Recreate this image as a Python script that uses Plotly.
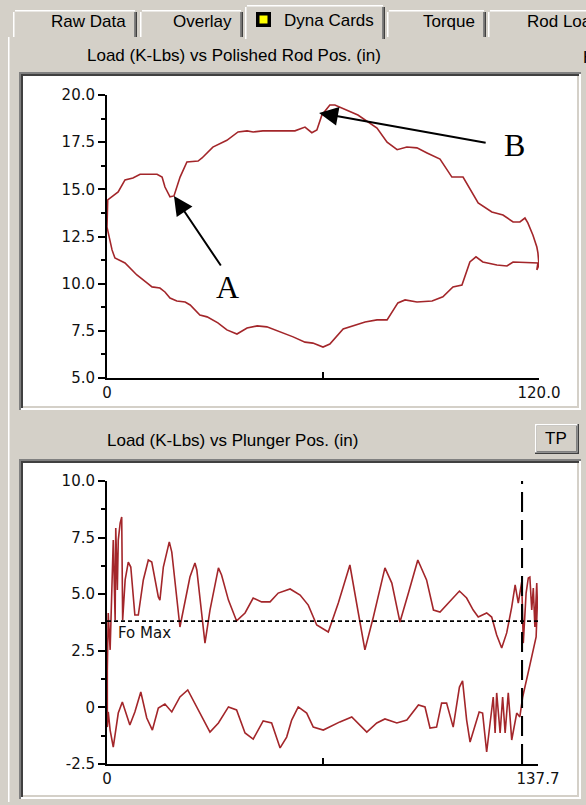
import plotly.graph_objects as go

W, H = 586, 805
BG = "#d4d0c8"
CARD_RED = "#a3262a"

# ---- Surface card: load (K-Lbs) vs polished rod position (in) ----
POLISHED_POS = [0.0, 0.2, 3.1, 5.0, 7.2, 9.2, 13.9, 15.3, 16.1, 17.5, 18.6, 20.3, 22.2, 25.3, 26.4,
                29.4, 33.3, 36.4, 38.9, 40.6, 43.3, 48.1, 52.2, 55.0, 56.9, 58.3, 59.7, 61.9, 63.3,
                69.7, 75.0, 77.8, 80.6, 83.3, 86.1, 88.9, 92.5, 95.8, 98.9, 103.1, 106.9, 110.0,
                112.8, 114.7, 116.1, 116.9, 118.3, 119.4, 119.7, 120.0, 119.4, 119.7, 112.8, 111.1,
                108.3, 104.4, 102.5, 100.8, 98.6, 96.1, 93.3, 90.3, 86.1, 82.8, 80.8, 77.8, 75.0,
                71.7, 65.6, 61.9, 60.0, 57.2, 55.0, 51.7, 48.1, 44.4, 41.7, 38.9, 36.1, 33.3, 30.8,
                27.8, 25.8, 23.1, 21.7, 19.4, 17.5, 16.1, 14.7, 12.5, 11.1, 8.3, 5.0, 2.2, 1.4, 0.3, 0.0]
POLISHED_LOAD = [13.0, 14.44, 14.86, 15.5, 15.6, 15.8, 15.8, 15.65, 15.12, 14.6, 14.65, 15.65, 16.45,
                 16.5, 16.66, 17.24, 17.6, 18.04, 18.1, 18.04, 18.1, 18.1, 18.1, 18.3, 18.0, 18.15,
                 18.94, 19.47, 19.47, 18.94, 18.25, 17.5, 17.1, 17.24, 17.2, 16.93, 16.6, 15.65, 15.65,
                 14.28, 13.8, 13.64, 13.27, 13.27, 13.48, 13.22, 12.58, 11.94, 11.63, 10.99, 10.73,
                 11.1, 11.15, 10.94, 10.99, 11.15, 11.42, 11.15, 9.93, 9.83, 9.3, 9.08, 9.03, 9.14,
                 8.98, 8.08, 8.08, 7.97, 7.6, 6.8, 6.64, 6.85, 6.9, 7.18, 7.44, 7.71, 7.76, 7.65, 7.33,
                 7.55, 7.92, 8.24, 8.34, 8.87, 9.03, 9.08, 9.24, 9.56, 9.77, 9.83, 10.04, 10.46, 11.1,
                 11.36, 11.79, 12.85, 13.0]

# ---- Downhole card: load (K-Lbs) vs plunger position (in) ----
PLUNGER_POS_UP = [0.1, 0.4, 1.0, 1.5, 2.0, 2.6, 2.8, 3.3, 3.6, 4.2, 4.7, 5.0, 5.8, 6.8, 7.6, 8.9, 10.0,
                  11.6, 13.2, 14.3, 16.4, 16.9, 18.0, 19.9, 20.7, 23.3, 24.9, 26.5, 28.1, 28.7, 31.3,
                  32.9, 35.6, 36.6, 38.8, 41.4, 44.1, 46.7, 49.4, 52.1, 54.7, 58.5, 61.7, 64.3, 67.0,
                  70.7, 73.9, 77.6, 80.3, 82.4, 85.1, 88.8, 91.0, 93.6, 96.3, 99.3, 102.1, 104.3, 106.4,
                  109.0, 112.6, 114.9, 117.0, 118.6, 121.3, 122.9, 124.5, 126.1, 127.7, 129.3, 130.4,
                  131.4, 132.5, 133.0, 133.9, 134.6, 135.1, 135.7, 136.2, 136.7, 137.3, 137.5, 137.1,
                  135.1, 132.8]
PLUNGER_LOAD_UP = [1.65, 4.17, 2.54, 5.63, 7.39, 3.86, 7.92, 5.19, 7.39, 8.14, 8.41, 3.86, 5.63, 6.42,
                   6.2, 4.08, 4.08, 5.63, 6.51, 6.42, 4.88, 4.74, 6.2, 7.31, 6.86, 3.55, 4.74, 5.76, 6.38,
                   6.07, 2.84, 4.3, 6.16, 5.85, 4.74, 3.82, 4.17, 4.83, 4.66, 4.66, 5.05, 5.23, 4.96,
                   4.52, 3.64, 3.33, 4.61, 6.29, 4.17, 2.54, 3.99, 6.16, 5.49, 3.77, 5.05, 6.51, 5.63,
                   4.3, 4.21, 4.61, 5.14, 4.83, 4.3, 3.99, 4.17, 3.99, 3.2, 2.62, 3.29, 4.43, 5.41, 4.61,
                   5.54, 2.84, 5.05, 5.72, 5.76, 4.3, 5.27, 3.55, 5.49, 4.61, 3.11, 1.87, 0.46]
PLUNGER_POS_DOWN = [131.9, 130.9, 129.3, 128.2, 127.2, 126.4, 125.6, 124.5, 124.0, 123.4, 122.4, 121.3,
                    120.0, 118.9, 116.0, 114.9, 113.6, 112.6, 110.6, 108.5, 106.9, 105.3, 103.2, 101.6,
                    99.5, 95.8, 92.6, 88.8, 86.2, 83.0, 78.2, 74.4, 69.1, 65.9, 63.8, 61.1, 59.0, 57.4,
                    55.3, 52.6, 49.9, 46.7, 44.1, 41.4, 38.8, 35.6, 32.9, 29.7, 25.8, 23.3, 20.7, 18.5,
                    16.4, 14.5, 12.7, 10.8, 8.9, 7.3, 4.9, 3.6, 2.0, 1.0, 0.4, 0.1, 0.0, 0.1]
PLUNGER_LOAD_DOWN = [-0.42, -0.25, -1.44, 0.64, -1.13, 0.46, -1.13, 0.64, -1.13, 0.46, -0.69, -1.97,
                     -0.25, -0.2, -1.53, -0.56, 1.17, 0.9, -0.87, 0.19, 0.19, -0.87, -0.91, 0.02, 0.11,
                     -0.56, -0.69, -0.51, -0.69, -1.09, -0.42, -0.64, -1.0, -0.87, -0.25, 0.02, -0.56,
                     -1.31, -1.79, -0.69, -0.6, -1.4, -1.13, -0.11, 0.02, -0.69, -1.09, -0.25, 0.77, 0.46,
                     -0.2, 0.15, -0.03, -1.0, -0.47, 0.68, -0.2, -0.78, 0.24, -0.25, -1.75, -1.0, -0.2,
                     -0.87, 0.3, 1.65]

FO_MAX = 3.81          # fluid load line (K-Lbs)
TP_POS = 132.6         # travelling-plunger marker position (in)

TOP_Y_TICKS = [5.0, 7.5, 10.0, 12.5, 15.0, 17.5, 20.0]
TOP_Y_TEXT = ["5.0", "7.5", "10.0", "12.5", "15.0", "17.5", "20.0"]
TOP_X_TICKS = [0, 60, 120]
TOP_X_TEXT = ["0", "", "120.0"]
BOT_Y_TICKS = [-2.5, 0, 2.5, 5.0, 7.5, 10.0]
BOT_Y_TEXT = ["-2.5", "0", "2.5", "5.0", "7.5", "10.0"]
BOT_X_TICKS = [0, 68.85, 137.7]
BOT_X_TEXT = ["0", "", "137.7"]

TAB_LABELS = ["Raw Data", "Overlay", "Dyna Cards", "Torque", "Rod Loading"]
TOP_TITLE = "Load (K-Lbs) vs Polished Rod Pos. (in)"
BOT_TITLE = "Load (K-Lbs) vs Plunger Pos. (in)"


def fx(px):
    return px / W


def fy(py):
    return 1 - py / H


shapes = []
annotations = []


def rect(x0, y0, x1, y1, fill):
    shapes.append(dict(type="rect", xref="paper", yref="paper", x0=fx(x0), x1=fx(x1),
                       y0=fy(y1), y1=fy(y0), fillcolor=fill, line=dict(width=0), layer="below"))


def sunken(x0, y0, x1, y1):
    rect(x0, y0, x1, y1, "#808080")
    rect(x0 + 2, y0 + 2, x1, y1, "#ffffff")
    rect(x0 + 2, y0 + 2, x1 - 2, y1 - 2, "#404040")
    rect(x0 + 4, y0 + 4, x1 - 2, y1 - 2, BG)
    rect(x0 + 4, y0 + 4, x1 - 4, y1 - 4, "#ffffff")


def raised(x0, y0, x1, y1):
    rect(x0, y0, x1, y1, "#404040")
    rect(x0, y0, x1 - 1.5, y1 - 1.5, "#ffffff")
    rect(x0 + 1.5, y0 + 1.5, x1 - 1.5, y1 - 1.5, "#808080")
    rect(x0 + 1.5, y0 + 1.5, x1 - 3, y1 - 3, BG)


def text(s, px, py, size=17, family="Liberation Sans, Arial, sans-serif", xanchor="center"):
    annotations.append(dict(text=s, xref="paper", yref="paper", x=fx(px), y=fy(py),
                            xanchor=xanchor, yanchor="middle", showarrow=False,
                            font=dict(family=family, size=size, color="#000000")))


# caption strip and tab page
rect(0, 0, W, 9, "#ffffff")
rect(8, 37, W, 37 + 1.5, "#ffffff")
rect(8, 37, 9.5, 802, "#ffffff")

# tabs
tab_edges = [(13, 137), (140, 243), (245, 385), (387, 486), (488, 620)]
selected = 2
for i, (label, (x0, x1)) in enumerate(zip(TAB_LABELS, tab_edges)):
    top = 5 if i == selected else 10
    bottom = 39 if i == selected else 37
    rect(x0, top, x1, bottom, BG)
    rect(x0, top + 2, x0 + 1.5, bottom, "#ffffff")
    rect(x0 + 2, top, x1 - 2, top + 1.5, "#ffffff")
    rect(x1 - 3, top + 2, x1 - 1.5, bottom, "#808080")
    rect(x1 - 1.5, top + 2, x1, bottom, "#404040")
    if i == len(TAB_LABELS) - 1:
        text(label, 525, 22, xanchor="left")
    else:
        text(label, x1 - 9, 20 if i == selected else 22, xanchor="right")

# yellow indicator on the active tab
rect(256, 12, 271, 27, "#000000")
rect(259.5, 15.5, 267.5, 23.5, "#ffff00")

# chart panels
sunken(19, 72, 581, 410)
sunken(19, 459, 581, 799)
raised(535, 424, 579, 454)

text(TOP_TITLE, 234, 55)
text("H", 581, 58, xanchor="left")
text(BOT_TITLE, 232, 440)
text("TP", 556, 438)

axis_common = dict(showline=True, linecolor="#000000", linewidth=2, showgrid=False,
                   zeroline=False, tickmode="array", tickcolor="#000000", tickwidth=1.5,
                   tickfont=dict(family="DejaVu Sans, Verdana, sans-serif", size=15, color="#111111"),
                   fixedrange=True)

fig = go.Figure()
fig.add_trace(go.Scatter(x=POLISHED_POS, y=POLISHED_LOAD, mode="lines", xaxis="x", yaxis="y",
                         line=dict(color=CARD_RED, width=1.6), cliponaxis=False, showlegend=False))
fig.add_trace(go.Scatter(x=PLUNGER_POS_UP + PLUNGER_POS_DOWN, y=PLUNGER_LOAD_UP + PLUNGER_LOAD_DOWN,
                         mode="lines", xaxis="x2", yaxis="y2",
                         line=dict(color=CARD_RED, width=1.6), cliponaxis=False, showlegend=False))

# Fo Max and TP reference lines
fig.add_shape(type="line", xref="x2", yref="y2", x0=0, x1=BOT_X_TICKS[-1], y0=FO_MAX, y1=FO_MAX,
              line=dict(color="#000000", width=1.5, dash="4px,3px"))
fig.add_shape(type="line", xref="x2", yref="y2", x0=TP_POS, x1=TP_POS, y0=BOT_Y_TICKS[0],
              y1=BOT_Y_TICKS[-1], line=dict(color="#000000", width=2, dash="20px,8px"))

annotations.append(dict(text="Fo Max", xref="x2", yref="y2", x=3.0, y=FO_MAX, xanchor="left",
                        yanchor="top", yshift=-1, showarrow=False,
                        font=dict(family="DejaVu Sans, Verdana, sans-serif", size=15, color="#111111")))

# callouts A and B
arrow_style = dict(text="", showarrow=True, arrowhead=2, arrowsize=1.9, arrowwidth=2,
                   arrowcolor="#000000", xref="x", yref="y", axref="x", ayref="y", standoff=0)
annotations.append(dict(arrow_style, x=18.6, y=14.65, ax=31.9, ay=10.88))
annotations.append(dict(arrow_style, x=58.9, y=19.05, ax=105.6, ay=17.46))
for label, lx, ly in (("A", 33.6, 9.83), ("B", 113.1, 17.35)):
    annotations.append(dict(text=label, xref="x", yref="y", x=lx, y=ly, showarrow=False,
                            font=dict(family="Liberation Serif, Times New Roman, serif", size=32,
                                      color="#000000")))

fig.update_layout(
    width=W, height=H, autosize=False,
    margin=dict(l=0, r=0, t=0, b=0, autoexpand=False),
    paper_bgcolor=BG, plot_bgcolor="#ffffff",
    shapes=shapes + list(fig.layout.shapes),
    annotations=annotations,
    xaxis=dict(axis_common, domain=[fx(107), fx(539)], range=[0, 120], anchor="y",
               tickvals=TOP_X_TICKS, ticktext=TOP_X_TEXT, ticks="inside", ticklen=6),
    yaxis=dict(axis_common, domain=[fy(378), fy(95)], range=[5, 20], anchor="x",
               tickvals=TOP_Y_TICKS, ticktext=TOP_Y_TEXT, ticks="outside", ticklen=7,
               minor=dict(tick0=5, dtick=1.25, ticks="outside", ticklen=4, tickwidth=1.5,
                          tickcolor="#000000", showgrid=False)),
    xaxis2=dict(axis_common, domain=[fx(107), fx(538)], range=[0, 137.7], anchor="y2",
                tickvals=BOT_X_TICKS, ticktext=BOT_X_TEXT, ticks="inside", ticklen=6),
    yaxis2=dict(axis_common, domain=[fy(764), fy(481)], range=[-2.5, 10], anchor="x2",
                tickvals=BOT_Y_TICKS, ticktext=BOT_Y_TEXT, ticks="outside", ticklen=7,
                minor=dict(tick0=0, dtick=1.25, ticks="outside", ticklen=4, tickwidth=1.5,
                           tickcolor="#000000", showgrid=False)),
)

fig.write_html("out.html", config={"displayModeBar": False})
